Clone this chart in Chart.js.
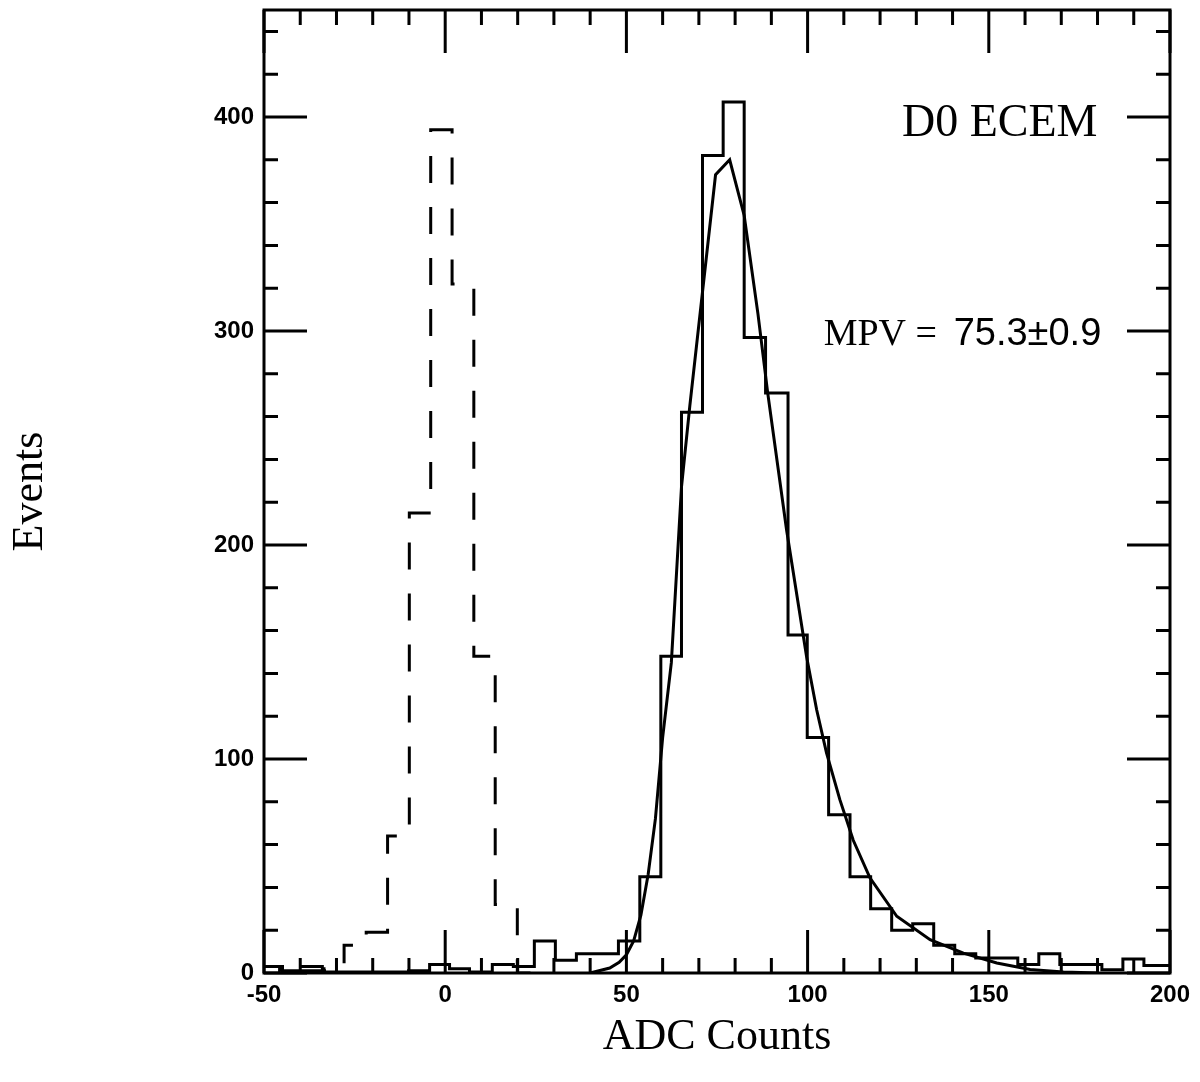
<!DOCTYPE html>
<html>
<head>
    <title>D0 ECEM ADC Counts</title>
    <style>
        body { margin: 0; background: #fff; }
        canvas { display: block; }
    </style>
</head>
<body>
    <canvas id="adcChart" width="1200" height="1082"></canvas>

    <script src="https://cdn.jsdelivr.net/npm/chart.js"></script>
    <script>
        // solid histogram (signal): left bin edges and counts per bin
        const signalEdges = [-50.7, -44.9, -39.1, -33.3, -27.5, -21.7, -15.9, -10.1, -4.3, 1.2, 6.7,
            13.0, 18.8, 24.6, 30.4, 36.2, 42.0, 47.8, 53.7, 59.5, 65.2, 71.0, 76.7, 82.5, 88.4,
            94.6, 99.9, 105.8, 111.7, 117.4, 123.2, 129.0, 134.8, 140.6, 146.4, 152.2, 158.0,
            163.8, 169.6, 175.4, 181.2, 187.0, 192.8, 198.6];
        const signalCounts = [3, 1, 1, 0.5, 0.5, 0.5, 0.5, 1, 4, 2, 0.5,
            4, 3, 15, 6, 9, 9, 15, 45, 148, 262, 382, 407, 297, 271,
            158, 110, 74, 45, 30, 20, 23, 13, 9, 7, 7, 4,
            9, 4, 4, 1.5, 6.5, 3.5, 3.5];
        const signalLastEdge = 204.4;

        // dashed histogram (pedestal)
        const pedestalEdges = [-51.6, -45.7, -39.8, -33.9, -27.9, -21.8, -15.9, -9.9, -4.0, 1.9, 7.9, 13.8, 19.9];
        const pedestalCounts = [3, 1, 3, 2, 13, 19, 64, 215, 394, 322, 148, 32, 0];
        const pedestalLastEdge = 25.8;

        // fitted curve
        const fitX = [40, 45.4, 48, 50, 52, 54, 56, 58, 60, 62.4, 65.2, 67.5, 74.6, 78.5, 82.5,
            86.3, 89, 94.2, 99.7, 102.5, 105.2, 108.9, 112.6, 117.2, 124.6, 133.8, 143, 152.2,
            161.4, 170.6, 180];
        const fitY = [0, 2.3, 5, 8.5, 15, 27, 46, 72, 110, 145, 227, 265, 373, 380, 354,
            308, 271, 207, 148, 123, 103, 81, 62, 44.5, 26.5, 15.6, 9.3, 4.7,
            1.6, 0.5, 0];

        const xTickLabels = [-50, 0, 50, 100, 150, 200];
        const yTickLabels = [0, 100, 200, 300, 400];

        function stepPoints(edges, counts, lastEdge) {
            // first point carries the first count, each next point closes the previous bin
            const pts = [{ x: edges[0], y: counts[0] }];
            for (let i = 1; i < edges.length; i++) {
                pts.push({ x: edges[i], y: counts[i - 1] });
                pts.push({ x: edges[i], y: counts[i] });
            }
            pts.push({ x: lastEdge, y: counts[counts.length - 1] });
            return pts;
        }

        // frame, inward ticks on all four sides, and the text labels
        const framePlugin = {
            id: 'frame',
            afterDraw(chart) {
                const { ctx, chartArea: a, scales: { x, y } } = chart;
                ctx.save();
                ctx.strokeStyle = '#000';
                ctx.lineWidth = 3;
                ctx.strokeRect(a.left, a.top, a.right - a.left, a.bottom - a.top);

                ctx.beginPath();
                for (let v = -50; v <= 200; v += 10) {
                    const px = x.getPixelForValue(v);
                    const len = xTickLabels.includes(v) ? 43 : 15;
                    ctx.moveTo(px, a.bottom); ctx.lineTo(px, a.bottom - len);
                    ctx.moveTo(px, a.top); ctx.lineTo(px, a.top + len);
                }
                for (let v = 0; v <= 440; v += 20) {
                    const py = y.getPixelForValue(v);
                    const len = yTickLabels.includes(v) ? 43 : 14;
                    ctx.moveTo(a.left, py); ctx.lineTo(a.left + len, py);
                    ctx.moveTo(a.right, py); ctx.lineTo(a.right - len, py);
                }
                ctx.stroke();

                ctx.fillStyle = '#000';
                ctx.textBaseline = 'alphabetic';
                ctx.font = '46px "Liberation Serif"';
                ctx.textAlign = 'right';
                ctx.fillText('D0 ECEM', x.getPixelForValue(180), y.getPixelForValue(391));

                ctx.font = '38px "Liberation Serif"';
                ctx.fillText('MPV =', x.getPixelForValue(135.7), y.getPixelForValue(293.6));
                ctx.font = '38px "Liberation Sans"';
                ctx.textAlign = 'left';
                ctx.fillText('75.3\u00b10.9', x.getPixelForValue(140.3), y.getPixelForValue(293.6));
                ctx.restore();
            }
        };

        const ctx = document.getElementById('adcChart').getContext('2d');
        const chart = new Chart(ctx, {
            type: 'line',
            data: {
                datasets: [
                    {
                        label: 'Signal',
                        data: stepPoints(signalEdges, signalCounts, signalLastEdge),
                        borderColor: '#000',
                        borderWidth: 3,
                        borderJoinStyle: 'miter',
                        pointRadius: 0,
                        fill: false
                    },
                    {
                        label: 'Pedestal',
                        data: stepPoints(pedestalEdges, pedestalCounts, pedestalLastEdge),
                        borderColor: '#000',
                        borderWidth: 3,
                        borderJoinStyle: 'miter',
                        borderDash: [27, 24],
                        pointRadius: 0,
                        fill: false
                    },
                    {
                        label: 'Fit',
                        data: fitX.map((v, i) => ({ x: v, y: fitY[i] })),
                        borderColor: '#000',
                        borderWidth: 3,
                        tension: 0,
                        pointRadius: 0,
                        fill: false
                    }
                ]
            },
            options: {
                responsive: false,
                animation: false,
                devicePixelRatio: 1,
                layout: { padding: { left: 0, right: 30, top: 10, bottom: 0 } },
                plugins: { legend: { display: false }, tooltip: { enabled: false } },
                scales: {
                    x: {
                        type: 'linear',
                        min: -50,
                        max: 200,
                        grid: { display: false, drawTicks: false },
                        border: { display: false },
                        ticks: {
                            stepSize: 50,
                            padding: 8,
                            color: '#000',
                            maxRotation: 0,
                            font: { family: '"Liberation Sans"', size: 24, weight: 'bold' }
                        },
                        title: {
                            display: true,
                            text: 'ADC Counts',
                            color: '#000',
                            padding: { top: 0, bottom: 18 },
                            font: { family: '"Liberation Serif"', size: 44 }
                        },
                        afterFit(scale) {
                            scale.height = 109;
                            scale.paddingLeft = 0;
                            scale.paddingRight = 0;
                        }
                    },
                    y: {
                        min: 0,
                        max: 450,
                        grid: { display: false, drawTicks: false },
                        border: { display: false },
                        ticks: {
                            stepSize: 100,
                            includeBounds: false,
                            padding: 10,
                            color: '#000',
                            font: { family: '"Liberation Sans"', size: 24, weight: 'bold' }
                        },
                        title: {
                            display: true,
                            text: 'Events',
                            color: '#000',
                            padding: { top: 4, bottom: 0 },
                            font: { family: '"Liberation Serif"', size: 44 }
                        },
                        afterFit(scale) {
                            scale.width = 264;
                            scale.paddingTop = 0;
                            scale.paddingBottom = 0;
                        }
                    }
                }
            },
            plugins: [framePlugin]
        });
    </script>
</body>
</html>
